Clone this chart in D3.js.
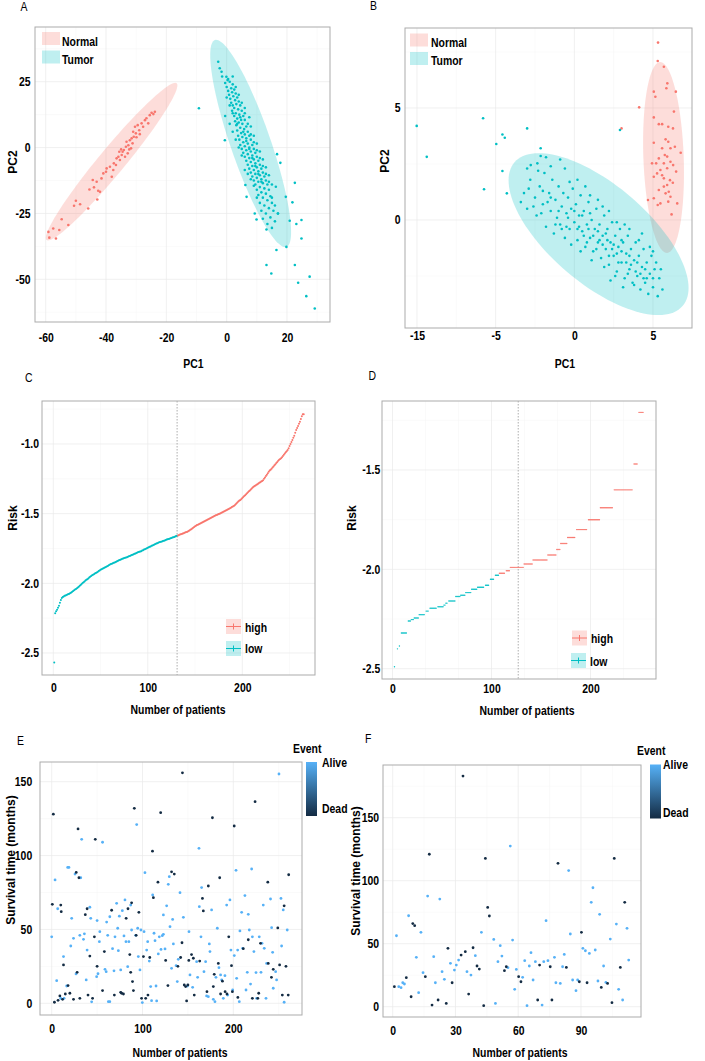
<!DOCTYPE html>
<html lang="en">
<head>
<meta charset="utf-8">
<title>risk model panels</title>
<script src="https://cdn.jsdelivr.net/npm/d3@7"></script>
<style>
  body{margin:0;background:#fff;}
  svg text{font-family:"Liberation Sans",Arial,Helvetica,sans-serif;fill:#000;}
</style>
</head>
<body>
<div id="chart"></div>
<script>
// ---- A: PCA, PC1 / PC2 ----
var normalA = [[-59.1,-32],[-58.8,-34.2],[-57.5,-30.7],[-56.6,-34.5],[-55.5,-31.3],[-54.7,-27.2],[-52.5,-29.4],[-50.6,-22.1],[-50,-20.2],[-48.6,-21.5],[-45.9,-23.1],[-45.5,-15.9],[-44.4,-12.3],[-44,-15.1],[-43.1,-13],[-42.9,-19.7],[-42.6,-16.4],[-42,-16.8],[-41.5,-11.7],[-40.9,-9.8],[-40,-9.2],[-39.8,-7.9],[-38.7,-7.3],[-38.1,-11.1],[-37.6,-8.5],[-37.4,-6],[-36.7,-6.6],[-36.5,-4.1],[-35.9,-3.5],[-35.6,-1.6],[-35.4,-4.7],[-35,-0.7],[-34.8,-2.8],[-34.5,-1.6],[-34.1,-0.9],[-33.7,-3.5],[-33.4,0.3],[-33.2,2.2],[-32.8,-2.2],[-32.6,0.9],[-32.3,-0.7],[-32.1,2.8],[-31.7,-0.3],[-31.5,3.5],[-31.2,1.6],[-31,6],[-30.8,4.1],[-30.4,7.9],[-30.1,5.4],[-29.9,3.9],[-29.5,8.5],[-29,6.6],[-28.8,5.1],[-28.2,9.2],[-27.7,7.9],[-27.1,10.4],[-26.6,11.1],[-26,9.2],[-25.5,12.3],[-24.9,13.2],[-24.3,12.7],[-23.8,13.6]]
var tumorA = [[-9.2,14.9],[-2.8,32.6],[-2.3,30.1],[-1.7,28.8],[-0.1,26.9],[0.3,25.6],
  [-1.5,27],[0.5,26],[-0.5,24.5],[1,25],[2,24],[0,23],[1.5,22.5],[2.5,22],[0.5,21.5],[1.8,21],[3,20.5],[0.8,20],[2.2,19.5],[3.5,19],[1.2,18.5],[2.8,18],[4,17.5],[1.5,17],[3.2,16.5],[2,16],[4.5,16],[2.5,15],[3.8,14.5],[1.8,14],[5,14],[3,13],[4.2,12.5],[2.5,12],[5.5,12],[3.5,11],[4.8,10.5],[2.8,10],[6,10.5],[4,9.5],[5.2,9],[3.2,8.5],[6.5,8],[4.5,7.5],[5.8,7],[3.5,6.5],[7,6],[4.8,5.5],[6,5],[3.8,4.5],[7.5,4.5],[5.2,4],[6.5,3.5],[4.2,3],[8,3],[5.5,2],[7,1.5],[4.5,1],[8.5,1],[6,0.5],[7.5,0],[5,-0.5],[9,-0.5],[6.5,-1],[8,-1.5],[5.5,-2],[9.5,-2],[7,-2.5],[8.5,-3],[6,-3.5],[10,-3.5],[7.5,-4],[9,-4.5],[6.5,-5],[10.5,-5],[8,-5.5],[9.5,-6],[7,-6.5],[11,-6.5],[8.5,-7],[10,-7.5],[7.5,-8],[11.5,-8],[9,-8.5],[10.5,-9],[8,-9.5],[12,-9.5],[9.5,-10],[11,-10.5],[8.5,-11],[12.5,-11],[10,-11.5],[11.5,-12],[9,-12.5],[13,-12.5],[10.5,-13],[12,-13.5],[9.5,-14],[13.5,-14],[11,-15],[12.5,-15.5],[10,-16],[14,-16],[11.5,-17],[13,-17.5],[10.5,-18],[14.5,-18.5],[12,-19],[13.5,-20],[11,-21],[15,-21],[12.5,-22],[14,-23],[11.5,-24],[15.5,-24],[13,-25],[14.5,-26.5],[12,-27],[16,-28],[13.5,-29],[15,-30.5],
  [0,19],[1,16],[2,13],[3.5,9],[4.5,11.5],[5.5,6],[6.5,2.5],[7.5,-0.5],[8.5,-4],[9.5,-7],[10.5,-10],[11.5,-13],[6,-8.5],[7,-10],[8,-12],[9,-14.5],[10,-19],[3,3],[4,0],[5,-3],[2,6],[1,9],[-0.5,12],[9,2],[10,-1],[11,-4],[12,-7],[13,-10],[14,-13],[15,-19],[16,-22],[17,-25],[2,27],[3,23],[4,20],[5,17],[6,13],[7,9],[8,5],[6,15],[7.5,11.5],[8,8],[9,4.5],[10,1.5],[11,-1.5],[12,-4.5],[13,-7.5],[14,-10.5],[15,-14],
  [13.2,-44.6],[14.8,-47.8],[16.5,-38.9],[19.8,-37.7],[22.6,-44.6],[23.7,-51.3],[27.5,-49],[26.4,-56.4],[29.2,-61.1],[24.8,-34.5],[24.8,-27.5],[23.1,-29],[22.6,-13.4],[21.8,-20.8],[20.9,-27.8],[17.8,-5.8],[16.7,-2.5],[19.6,-18.7],[16.3,-14.9],[17,-25],[13.2,-31.1],[9.9,-27.3],[9.3,-25],[6.6,-18.7],[6.2,-14.2],[-0.6,2.8]]
// ellipse: centre, semi-major vector, semi-minor vector (data units)
var ellipseA = [
  {group:"Normal", c:[-38.15,-5.35], a:[21.55,29.75], b:[3.32,-3.14]},
  {group:"Tumor",  c:[7.95,1.55],   a:[11.85,-39.25], b:[6.27,2.5]}]

// ---- B: PCA ----
var normalB = [[5.32,7.92],[5.3,7.1],[5.69,6.84],[5.91,6.1],[5.85,5.88],[6.45,5.73],[5.05,5.73],[5.15,5.5],[4.12,5.03],[5.05,4.58],[6.33,4.84],[5.37,4.28],[5.58,4.28],[5.97,4.16],[6.27,4.09],[5.8,3.6],[5.97,3.49],[5.05,3.45],[5.58,3.2],[6.11,3.2],[6.39,3.27],[6.76,3.0],[5.75,2.9],[5.9,2.83],[5.37,2.75],[4.94,2.53],[5.2,2.53],[5.69,2.53],[6.11,2.6],[6.28,2.45],[5.47,2.23],[5.9,2.31],[6.47,2.16],[5.26,2.08],[5.58,2.0],[5.05,1.93],[6.08,1.78],[6.26,1.66],[5.9,1.56],[5.69,1.49],[5.37,1.34],[6.0,1.26],[5.8,1.19],[6.11,1.04],[5.47,0.74],[5.97,0.82],[6.54,0.74],[5.3,0.67],[6.18,0.25],[5.05,0.97],[5.69,1.86],[4.68,0.89],[3.0,4.09]]
var tumorB = [[-10.02,4.2],[-9.38,2.82],[-5.8,4.54],[-5.74,1.37],[-4.96,3.39],[-4.57,3.82],[-4.42,3.67],[-4.57,2.19],[-4.29,1.19],[-3.0,4.09],[-2.14,3.2],[-2.14,2.86],[2.9,4.02],[-2.77,2.45],[-2.35,2.53],
  [-3.2,1.2],[-3,0.5],[-2.8,1.8],[-2.5,1],[-2.4,0.2],[-2.2,1.5],[-2,0.7],[-1.9,2.1],[-1.8,-0.3],[-1.6,1.2],[-1.5,0.4],[-1.4,1.8],[-1.3,-0.6],[-1.2,0.9],[-1.1,0.1],[-1,1.5],[-0.9,-0.2],[-0.8,0.6],[-0.7,1.2],[-0.6,-0.8],[-0.5,0.3],[-0.4,1],[-0.3,-0.4],[-0.2,0.5],[-0.1,1.4],[0,-0.1],[0.1,0.7],[0.2,-0.9],[0.3,0.2],[0.4,1.1],[0.5,-0.5],[0.6,0.4],[0.7,-1.2],[0.8,-0.2],[0.9,0.8],[1,-0.8],[1.1,0],[1.2,-1.4],[1.3,-0.4],[1.4,0.5],[1.5,-1],[1.6,-0.2],[1.7,-1.7],[1.8,-0.7],[1.9,0.2],[2,-1.3],[2.1,-0.4],[2.2,-2],[2.3,-1],[2.4,-0.1],[2.5,-1.6],[2.6,-0.7],[2.7,-2.3],[2.8,-1.2],[2.9,-0.4],[3,-1.9],[3.1,-1],[3.2,-2.6],[3.3,-1.5],[3.4,-0.7],[3.5,-2.2],[3.6,-1.3],[3.7,-2.8],[3.8,-1.8],[3.9,-1],[4,-2.5],[4.1,-1.6],[4.2,-3.1],[4.3,-2.1],[4.4,-1.3],[4.5,-2.8],[4.6,-1.9],[4.7,-3.3],[4.8,-2.4],[4.9,-1.6],[5,-3.0],[5.1,-2.2],[5.3,-3.4],[5.4,-2.6],[5.6,-3.1],
  [-2.6,0.6],[-2.1,0.3],[-1.7,0.8],[-1.2,-0.2],[-0.8,-0.4],[-0.4,0.1],[0,0.4],[0.3,-0.3],[0.6,-0.7],[0.9,-0.4],[1.2,-0.7],[1.5,-0.5],[1.8,-1.1],[2.1,-0.9],[2.4,-1.3],[2.7,-1.5],[3,-1.4],[3.3,-1.9],[3.6,-2],[3.9,-2.3],[4.2,-2.4],[4.5,-2.2],[0.5,0.2],[1,0.3],[1.4,-1.3],[2,-0.6],[2.5,-1.1],[3,-0.9],[3.5,-1.6],[4,-1.9],[4.4,-2.6],[-0.5,-0.3],[-1,0.4],[-1.5,1],[-2,1.3],[0.2,-0.4],[0.8,-1],[1.6,-0.9],[2.2,-1.6],[2.8,-1.9],[3.4,-2.4],[4.6,-2.6],[5,-2.6],[1.1,-1.8],[1.9,-2.1],[2.6,-2.5],[0.4,-1.4],[-0.2,-1.1],[3.8,-2.9],[3.1,-3],[2.3,-2.7],[5.2,-1.9],[4.8,-1.2],[4.1,-0.9],[3.5,-0.4],[2.7,-0.1],[1.8,0.6],[1,1.1],[0.2,1.8],[-0.6,2.3],[-1.5,2.4],[-2.3,2.2],[-0.3,1.7],[0.7,1.5],[1.5,0.9],[2.2,0.4],[3.2,-0.2],[4.3,-0.6],[5,-1.4],[5.5,-2.2],[-2.9,1.4],[-3.4,0.8],[-3,2.3],[-1.8,2.8],[-0.9,2.7]]
var ellipseB = [
  {group:"Normal", c:[5.67,2.79], a:[0.22,-4.26], b:[1.28,0.03]},
  {group:"Tumor",  c:[1.54,-0.63], a:[5.34,-3.21], b:[-2.05,-1.66]}]
var xTicksB = [-10,-5,0,5]
var xTickLabelsB = ["-15","-5","0","5"]

// ---- C: risk score per patient (sorted) ----
var riskC = [-2.569,
-2.215,-2.2,-2.19,-2.175,-2.16,-2.14,-2.12,-2.105,-2.098,-2.095,
-2.09,-2.087,-2.083,-2.08,-2.077,-2.074,-2.07,-2.066,-2.06,-2.055,
-2.05,-2.045,-2.04,-2.036,-2.03,-2.024,-2.018,-2.012,-2.005,-1.998,
-1.992,-1.986,-1.98,-1.975,-1.97,-1.965,-1.958,-1.952,-1.947,-1.942,
-1.938,-1.934,-1.93,-1.926,-1.922,-1.918,-1.912,-1.907,-1.903,-1.899,
-1.895,-1.892,-1.889,-1.885,-1.881,-1.878,-1.874,-1.869,-1.865,-1.862,
-1.859,-1.856,-1.853,-1.85,-1.846,-1.843,-1.839,-1.836,-1.833,-1.83,
-1.827,-1.824,-1.821,-1.818,-1.816,-1.814,-1.812,-1.809,-1.806,-1.803,
-1.8,-1.797,-1.794,-1.791,-1.788,-1.785,-1.782,-1.779,-1.776,-1.774,
-1.772,-1.769,-1.765,-1.762,-1.758,-1.755,-1.751,-1.748,-1.744,-1.741,
-1.738,-1.735,-1.731,-1.728,-1.724,-1.721,-1.718,-1.715,-1.712,-1.709,
-1.706,-1.703,-1.701,-1.699,-1.697,-1.695,-1.692,-1.689,-1.686,-1.684,
-1.682,-1.68,-1.677,-1.674,-1.671,-1.669,-1.667,-1.664,-1.661,-1.658,
-1.656,-1.653,-1.65,-1.648,-1.646,-1.643,-1.64,-1.637,-1.634,-1.631,
-1.629,-1.625,-1.62,-1.616,-1.611,-1.606,-1.601,-1.596,-1.591,-1.586,
-1.582,-1.579,-1.576,-1.572,-1.569,-1.565,-1.562,-1.558,-1.555,-1.551,
-1.547,-1.543,-1.54,-1.536,-1.533,-1.529,-1.526,-1.522,-1.519,-1.515,
-1.512,-1.509,-1.506,-1.503,-1.5,-1.497,-1.493,-1.489,-1.486,-1.482,
-1.479,-1.476,-1.472,-1.468,-1.465,-1.461,-1.457,-1.453,-1.449,-1.445,
-1.439,-1.432,-1.425,-1.418,-1.41,-1.405,-1.402,-1.395,-1.388,-1.381,
-1.374,-1.367,-1.36,-1.354,-1.347,-1.34,-1.333,-1.326,-1.32,-1.313,
-1.306,-1.301,-1.297,-1.292,-1.288,-1.283,-1.279,-1.274,-1.27,-1.265,
-1.26,-1.25,-1.24,-1.23,-1.22,-1.21,-1.2,-1.19,-1.185,-1.177,
-1.169,-1.161,-1.153,-1.145,-1.137,-1.129,-1.121,-1.113,-1.108,-1.103,
-1.095,-1.086,-1.078,-1.069,-1.06,-1.052,-1.043,-1.03,-1.015,-1.0,
-0.985,-0.971,-0.955,-0.94,-0.92,-0.9,-0.885,-0.87,-0.855,-0.84,
-0.82,-0.8,-0.787,-0.787]
var cutC = 131      // last low-risk patient / median line

// ---- D: risk score plateaus (first patient, last patient, risk) ----
var dStart = [2,5,7,9,16,19,22,27,34,38,46,52,54,57,64,69,74,80,86,94,99,104,108,115,119,133,142,157,166,170,177,186,198,210,224,244,249]
var dEnd   = [2,5,7,14,18,21,26,32,36,44,51,53,55,63,68,73,79,85,92,97,102,107,113,118,132,141,156,165,169,176,184,196,209,222,242,247,253]
var dRisk  = [-2.49,-2.40,-2.386,-2.32,-2.26,-2.253,-2.245,-2.228,-2.21,-2.196,-2.188,-2.18,-2.17,-2.159,-2.137,-2.13,-2.117,-2.10,-2.09,-2.08,-2.05,-2.03,-2.02,-2.007,-1.99,-1.973,-1.953,-1.928,-1.90,-1.87,-1.84,-1.80,-1.75,-1.69,-1.60,-1.47,-1.21]
var lowMaxD = 107
var cutD = 127

// ---- E: survival time (months) per patient ----
var deadE = [[1.8,128],[0.7,67],[3,0.7],[7,2],[9,5],[10,66.5],[10.5,62],[12,2.7],[13,26],[15,6.3],[18,12],[20,6.8],[24,2.7],[27,88.6],[28,21],[29,118],[30,85],[31,3.4],[37,60],[39,64],[40,5.6],[42,32],[45,3.4],[47,45],[48,111],[50,25],[56,8.6],[58,35],[66,63],[69,5.6],[76,7.4],[77,6.8],[79,6.3],[82,57.5],[84,64],[86,33],[87,21],[88,68],[89,14.7],[90,8.6],[91,132],[93,46],[96,61.6],[99,3.4],[101,31.6],[103.5,3.4],[106,5.6],[108,31],[111,103],[112,71.5],[117,82],[120,129],[125.5,29],[128,12],[132,89],[135,87.5],[139,25],[142,31],[143.5,41],[144,156],[146,12.4],[147.5,11.3],[148.6,1.6],[150,12.4],[151,29],[154,33],[156,30.5],[157,5.6],[163,28.6],[166,71],[167,62.5],[172.5,79.4],[171,7.9],[177,125.6],[179,19.6],[178,11.3],[183.5,27],[185,85],[186,6.3],[188,15],[191,7.9],[193,6.3],[195,45],[198,25.5],[199,7.9],[201,120],[205,4],[211,37],[216.5,43],[221,3.4],[224,136.5],[227,3.4],[228,6.8],[230,40.6],[238.5,27],[238,82],[242,17.6],[244,23],[249,51],[251,26],[254,5.6],[256,66],[258,25],[260.5,5.6],[261,87]]
var aliveE = [[0,45],[3.7,83.5],[5.5,15.3],[6.6,64],[10,3.4],[13,31.6],[13.6,3.4],[16.5,11.7],[17.6,92],[19,92],[21,38.8],[22,57.5],[24,44],[25.7,87.5],[26.8,19.9],[31,46],[33,111],[32,85],[35,43.3],[36,47],[38,15.8],[39,36],[42,65],[43,57.5],[44,1],[49.5,18],[50,56],[51,20],[52.5,41.7],[53,48.5],[56,109],[58.7,23],[60,21.4],[60.5,55],[61.7,46],[62.4,1.1],[64,1.1],[64,58.6],[67,37],[68.6,22],[69.7,45],[71.5,67.7],[72.7,50.8],[73.4,35.6],[74.5,59],[76,22.6],[77.8,62.7],[79.6,45.6],[80.7,70],[81.8,41.7],[83.7,24.8],[85,41.7],[87,66.5],[88,49.6],[92.5,46],[93.6,121],[94.7,50.8],[95.4,31.6],[97.2,22.6],[98.3,49.6],[99.8,0.5],[101.7,48.5],[102.7,88.4],[104.6,36],[105.7,41.7],[107.5,28.6],[109,11.3],[110,1.8],[111.2,73.3],[112.7,47.4],[113.8,42.4],[114.9,11.7],[115.6,1.6],[117.4,33.4],[118.5,45],[120.4,36.5],[121.8,45.8],[123,46.7],[123,59.8],[124.8,36.8],[126.6,66],[128.4,80.5],[129.5,85.7],[130.3,51.9],[132,23.7],[133.2,56.8],[134,40.2],[137,25.5],[138.3,14.7],[139.4,29.8],[141.3,74.9],[145,58.2],[149.4,11.7],[151.2,48.5],[152.3,19.2],[155.2,10.8],[159.6,28.2],[160.7,17.6],[162.2,104.9],[162.6,65.4],[164.4,45],[165.1,78.3],[167.7,21.4],[169.5,28.2],[170.6,5],[172.5,4.5],[173.6,40.2],[174.3,35],[176.1,63.2],[178,2.7],[179.8,1.1],[180.9,17.6],[182.4,50.8],[184.2,24.1],[186,19.2],[187.2,15.8],[189,3.4],[190.8,18.7],[192.7,66.5],[193.8,5.6],[196.3,70],[197.4,36],[199.3,9],[201.1,32.3],[203,90],[203.7,16.9],[204.8,36],[206.6,1.1],[207.3,49],[209.2,61.6],[210.3,37.2],[212.8,72.9],[214,9],[215.4,21],[216.5,60.2],[217.6,49.6],[219,13],[220.2,90.9],[221,45],[222.7,35],[225,20.8],[225.7,3.4],[228.6,45],[230.5,21],[231.6,40.6],[233,66.5],[234.1,37.2],[236,3.4],[236.7,27],[241,70.6],[242.2,51.2],[243.3,34.5],[244,10.2],[246.6,21.4],[247.7,15.8],[250.3,155.2],[252.5,71],[253.2,38.8],[255,63.2],[256,0.7],[259.4,49.6]]

// ---- F: survival time (months) per patient ----
var deadF = [[0.8,15.9],[6.5,23],[8.8,7.9],[9.6,66],[10.5,64.3],[15.6,23.8],[17.5,121],[18.8,1.3],[21.7,5.3],[25.6,2.6],[26.4,46.3],[28.4,19],[32.7,41],[33.6,183],[34.7,43.7],[36.3,10],[38.4,46.8],[40.3,32.3],[41.4,29.9],[43.5,0.8],[44.3,117.7],[45.4,78.8],[46.2,72],[53.4,28.6],[54.3,31.7],[60.2,23.8],[61.3,19.8],[69.3,5.3],[70.2,33],[75.3,31.7],[76.1,5.3],[79,113.8],[83,31.2],[89.2,19.8],[90.2,59],[92.9,19],[99.7,15.3],[102.7,18.5],[104.8,3.2],[105.9,117.7],[108.8,31.2],[110.9,82.8]]
var aliveF = [[1.8,56.3],[2.9,15.9],[4,15.1],[4.8,19],[5.6,18],[7.6,72.2],[11.3,39.2],[12.4,11.1],[13.5,59],[14.5,27],[16.7,87.8],[19.6,39.7],[20.4,19],[22.5,85.4],[23.6,27.8],[24.7,21.7],[27.6,34.4],[29.5,29.1],[30.4,33],[31.5,37],[35.5,27.8],[37.4,25.1],[39.5,40.5],[42.4,59],[48.3,53.4],[49.1,2.6],[50.3,35.7],[51.4,48.4],[52.2,40.2],[55.1,31],[56.2,127.5],[57.3,52.9],[58.3,13.8],[59.1,29.6],[62.1,23.3],[63.1,36.5],[64.2,0.8],[65.3,32.3],[66.1,42.9],[67.1,21.2],[68.2,35.7],[71.4,1.3],[72.2,35.7],[73.3,68.3],[74.2,36.5],[77.3,39.2],[78,19],[80.1,18.5],[81.2,31.7],[82,41.5],[84.1,108],[84.9,57.7],[86,21.2],[87.6,12.7],[88.4,21.2],[90.9,46.3],[92.1,44.4],[94,42.3],[94.9,82.8],[95.7,94.4],[96.8,45],[98.1,20.4],[98.9,73.3],[100.8,32.3],[101.9,19.3],[104,53.7],[106.9,65.6],[108,13.8],[109.9,5.3],[112,62.2],[112.8,37]]

var RED = "#F8766D", CYAN = "#00BFC4"
var ALIVE = "#56B1F7", DEAD = "#132B43"
var fillOf = {Normal:"rgba(248,118,109,0.25)", Tumor:"rgba(0,191,196,0.25)"}
var SX = 0.87   // the figure is squeezed horizontally, text too

var svg = d3.select("#chart").append("svg").attr("width",705).attr("height",1061)

var grad = svg.append("defs").append("linearGradient").attr("id","evgrad")
  .attr("x1",0).attr("y1",0).attr("x2",0).attr("y2",1)
grad.append("stop").attr("offset","0%").attr("stop-color",ALIVE)
grad.append("stop").attr("offset","100%").attr("stop-color",DEAD)

function label(g, s, x, y, o){
  o = o || {}
  var tr = "translate(" + x + "," + y + ")" + (o.rot ? " rotate(" + o.rot + ")" : " scale(" + SX + ",1)")
  return g.append("text").attr("transform", tr)
    .attr("text-anchor", o.anchor || "start")
    .attr("font-size", o.size || 12)
    .attr("font-weight", o.weight || "bold")
    .text(s)
}

function panel(p){
  var g = svg.append("g")
  g.append("rect").attr("x",p.x0).attr("y",p.y0).attr("width",p.x1-p.x0).attr("height",p.y1-p.y0).attr("fill","#fff")
  var inX = function(v){ var px = p.x(v); return px > p.x0 && px < p.x1 }
  var inY = function(v){ var py = p.y(v); return py > p.y0 && py < p.y1 }
  var lines = [[p.xMinor,p.yMinor,"#F4F4F4",0.5],[p.xMajor,p.yMajor,"#E9E9E9",0.7]]
  lines.forEach(function(l){
    g.selectAll(null).data(l[0].filter(inX)).join("line")
      .attr("x1",d=>p.x(d)).attr("x2",d=>p.x(d)).attr("y1",p.y0).attr("y2",p.y1)
      .attr("stroke",l[2]).attr("stroke-width",l[3])
    g.selectAll(null).data(l[1].filter(inY)).join("line")
      .attr("y1",d=>p.y(d)).attr("y2",d=>p.y(d)).attr("x1",p.x0).attr("x2",p.x1)
      .attr("stroke",l[2]).attr("stroke-width",l[3])
  })
  var ax = g.append("g").attr("transform","translate(0," + p.y1 + ")")
    .call(d3.axisBottom(p.x).tickValues(p.xMajor).tickSize(0).tickPadding(p.xPad).tickFormat(p.xFmt))
  var ay = g.append("g").attr("transform","translate(" + p.x0 + ",0)")
    .call(d3.axisLeft(p.y).tickValues(p.yMajor).tickSize(0).tickPadding(p.yPad).tickFormat(p.yFmt))
  ;[ax,ay].forEach(function(a){
    a.select(".domain").remove()
    a.attr("font-size",12).attr("font-family",null)
    a.selectAll("text").attr("font-weight","bold").attr("transform","scale(" + SX + ",1)")
  })
  p.g = g
  p.body = g.append("g")
  p.border = function(){
    g.append("rect").attr("x",p.x0).attr("y",p.y0).attr("width",p.x1-p.x0).attr("height",p.y1-p.y0)
      .attr("fill","none").attr("stroke","#ABABAB").attr("stroke-width",1)
  }
  return p
}

function ellipsePath(p, e){
  var pts = d3.range(0, 2*Math.PI + 0.01, Math.PI/60).map(function(t){
    return [e.c[0] + e.a[0]*Math.cos(t) + e.b[0]*Math.sin(t), e.c[1] + e.a[1]*Math.cos(t) + e.b[1]*Math.sin(t)]
  })
  return d3.line().x(d=>p.x(d[0])).y(d=>p.y(d[1]))(pts)
}

function dots(p, data, col, r){
  p.body.selectAll(null).data(data).join("circle")
    .attr("cx",d=>p.x(d[0])).attr("cy",d=>p.y(d[1])).attr("r",r).attr("fill",col)
}

var num = function(d){ return String(d) }
var dec = function(d){ return d.toFixed(1) }

// ---------- A ----------
var pA = panel({x0:35,x1:330,y0:27,y1:322,
  x:d3.scaleLinear().domain([-60,20]).range([45.7,287]),
  y:d3.scaleLinear().domain([-50,25]).range([279.3,81.7]),
  xMajor:[-60,-40,-20,0,20], xMinor:[-50,-30,-10,10,30],
  yMajor:[-50,-25,0,25], yMinor:[-62.5,-37.5,-12.5,12.5,37.5],
  xFmt:num, yFmt:num, xPad:11, yPad:5})
ellipseA.forEach(function(e){ pA.body.append("path").attr("d",ellipsePath(pA,e)).attr("fill",fillOf[e.group]) })
dots(pA, normalA, RED, 1.3)
dots(pA, tumorA, CYAN, 1.3)
pA.border()

// ---------- B ----------
var pB = panel({x0:405,x1:692,y0:28,y1:328,
  x:d3.scaleLinear().domain([-10,5]).range([417,653]),
  y:d3.scaleLinear().domain([0,5]).range([220,108]),
  xMajor:xTicksB, xMinor:[-7.5,-2.5,2.5,7.5],
  yMajor:[0,5], yMinor:[-2.5,2.5,7.5],
  xFmt:function(d,i){ return xTickLabelsB[i] }, yFmt:num, xPad:3, yPad:5})
ellipseB.forEach(function(e){ pB.body.append("path").attr("d",ellipsePath(pB,e)).attr("fill",fillOf[e.group]) })
dots(pB, normalB, RED, 1.3)
dots(pB, tumorB, CYAN, 1.3)
pB.border()

// legends A/B
;[[pA,42,32,62,45.7,64],[pB,410,33.5,431,46.7,65]].forEach(function(l){
  var g = l[0].g
  g.append("rect").attr("x",l[1]).attr("y",l[2]).attr("width",18).attr("height",13).attr("fill",fillOf.Normal)
  g.append("rect").attr("x",l[1]).attr("y",l[2]+18.5).attr("width",18).attr("height",13).attr("fill",fillOf.Tumor)
  label(g,"Normal",l[3],l[4])
  label(g,"Tumor",l[3],l[5])
})

// ---------- C ----------
var pC = panel({x0:42,x1:315,y0:401,y1:675,
  x:d3.scaleLinear().domain([0,200]).range([53.3,242.3]),
  y:d3.scaleLinear().domain([-2.5,-1]).range([653,444]),
  xMajor:[0,100,200], xMinor:[50,150,250],
  yMajor:[-2.5,-2,-1.5,-1], yMinor:[-2.25,-1.75,-1.25,-0.75],
  xFmt:num, yFmt:dec, xPad:8, yPad:3.5})
pC.body.append("line").attr("x1",pC.x(cutC)).attr("x2",pC.x(cutC)).attr("y1",pC.y0).attr("y2",pC.y1)
  .attr("stroke","#999").attr("stroke-width",0.8).attr("stroke-dasharray","1.5,1.5")
dots(pC, riskC.map((r,i)=>[i+1,r]).filter(d=>d[0]<=cutC), CYAN, 1.0)
dots(pC, riskC.map((r,i)=>[i+1,r]).filter(d=>d[0]>cutC), RED, 1.0)
pC.border()

// ---------- D ----------
var pointsD = []
dStart.forEach(function(s,k){ for (var q = s; q <= dEnd[k]; q++) pointsD.push([q, dRisk[k]]) })
var pD = panel({x0:382,x1:656,y0:401,y1:679,
  x:d3.scaleLinear().domain([0,200]).range([392.5,590.5]),
  y:d3.scaleLinear().domain([-2.5,-1.5]).range([668.7,470]),
  xMajor:[0,100,200], xMinor:[33.3,66.7,133.3,166.7,233.3,266.7],
  yMajor:[-2.5,-2,-1.5], yMinor:[-2.25,-1.75,-1.25],
  xFmt:num, yFmt:dec, xPad:5.5, yPad:2})
pD.body.append("line").attr("x1",pD.x(cutD)).attr("x2",pD.x(cutD)).attr("y1",pD.y0).attr("y2",pD.y1)
  .attr("stroke","#999").attr("stroke-width",0.8).attr("stroke-dasharray","1.5,1.5")
dots(pD, pointsD.filter(d=>d[0]<=lowMaxD), CYAN, 0.7)
dots(pD, pointsD.filter(d=>d[0]>lowMaxD), RED, 0.7)
pD.border()

// legends C/D
function riskKey(g, x, y, col, fill, txt, ty){
  g.append("rect").attr("x",x).attr("y",y).attr("width",15).attr("height",15).attr("fill",fill)
  g.append("line").attr("x1",x).attr("x2",x+15).attr("y1",y+7.5).attr("y2",y+7.5).attr("stroke",col).attr("stroke-width",1)
  g.append("line").attr("x1",x+7.5).attr("x2",x+7.5).attr("y1",y+4.5).attr("y2",y+10.5).attr("stroke",col).attr("stroke-width",1)
  label(g, txt, x+19, ty)
}
riskKey(pC.g, 226, 619, RED, fillOf.Normal, "high", 631.7)
riskKey(pC.g, 226, 641, CYAN, fillOf.Tumor, "low", 653.3)
riskKey(pD.g, 572, 630.5, RED, fillOf.Normal, "high", 642.7)
riskKey(pD.g, 571, 653, CYAN, fillOf.Tumor, "low", 665.7)

// ---------- E ----------
var pE = panel({x0:40,x1:302,y0:762,y1:1015,
  x:d3.scaleLinear().domain([0,200]).range([51.7,233.3]),
  y:d3.scaleLinear().domain([0,150]).range([1003.3,781.7]),
  xMajor:[0,100,200], xMinor:[50,150,250],
  yMajor:[0,50,100,150], yMinor:[25,75,125],
  xFmt:num, yFmt:num, xPad:9.5, yPad:9})
dots(pE, aliveE, ALIVE, 1.4)
dots(pE, deadE, DEAD, 1.4)
pE.border()

// ---------- F ----------
var pF = panel({x0:383,x1:641,y0:765,y1:1017,
  x:d3.scaleLinear().domain([0,90]).range([392.7,581]),
  y:d3.scaleLinear().domain([0,150]).range([1006.7,817.7]),
  xMajor:[0,30,60,90], xMinor:[15,45,75,105],
  yMajor:[0,50,100,150], yMinor:[25,75,125,175],
  xFmt:num, yFmt:num, xPad:9, yPad:4.5})
dots(pF, aliveF, ALIVE, 1.4)
dots(pF, deadF, DEAD, 1.4)
pF.border()

// event colour bars
;[[pE.g,293,753,306,762,322,766.5,813.3],[pF.g,637,755,650,764.5,663,769,816.5]].forEach(function(l){
  var g = l[0]
  label(g,"Event",l[1],l[2])
  g.append("rect").attr("x",l[3]).attr("y",l[4]).attr("width",11).attr("height",54).attr("fill","url(#evgrad)")
  label(g,"Alive",l[5],l[6])
  label(g,"Dead",l[5],l[7])
})

// ---------- titles ----------
var t = svg.append("g")
label(t,"PC1",193.5,368,{anchor:"middle"})
label(t,"PC1",565,367.5,{anchor:"middle"})
label(t,"PC2",16.5,162,{anchor:"middle",rot:-90})
label(t,"PC2",388.5,161,{anchor:"middle",rot:-90})
label(t,"Risk",17,518,{anchor:"middle",rot:-90})
label(t,"Risk",356,518,{anchor:"middle",rot:-90})
label(t,"Number of patients",178,713.5,{anchor:"middle"})
label(t,"Number of patients",527,715,{anchor:"middle"})
label(t,"Survival time (months)",15,860,{anchor:"middle",rot:-90})
label(t,"Survival time (months)",360,871,{anchor:"middle",rot:-90})
label(t,"Number of patients",180,1057,{anchor:"middle"})
label(t,"Number of patients",520,1057,{anchor:"middle"})

// panel letters
;[["A",20.5,10.7],["B",370,10],["C",25,381.7],["D",368.5,380],["E",17,745],["F",365,743]].forEach(function(l){
  label(t,l[0],l[1],l[2],{weight:"normal",size:12})
})
</script>
</body>
</html>
